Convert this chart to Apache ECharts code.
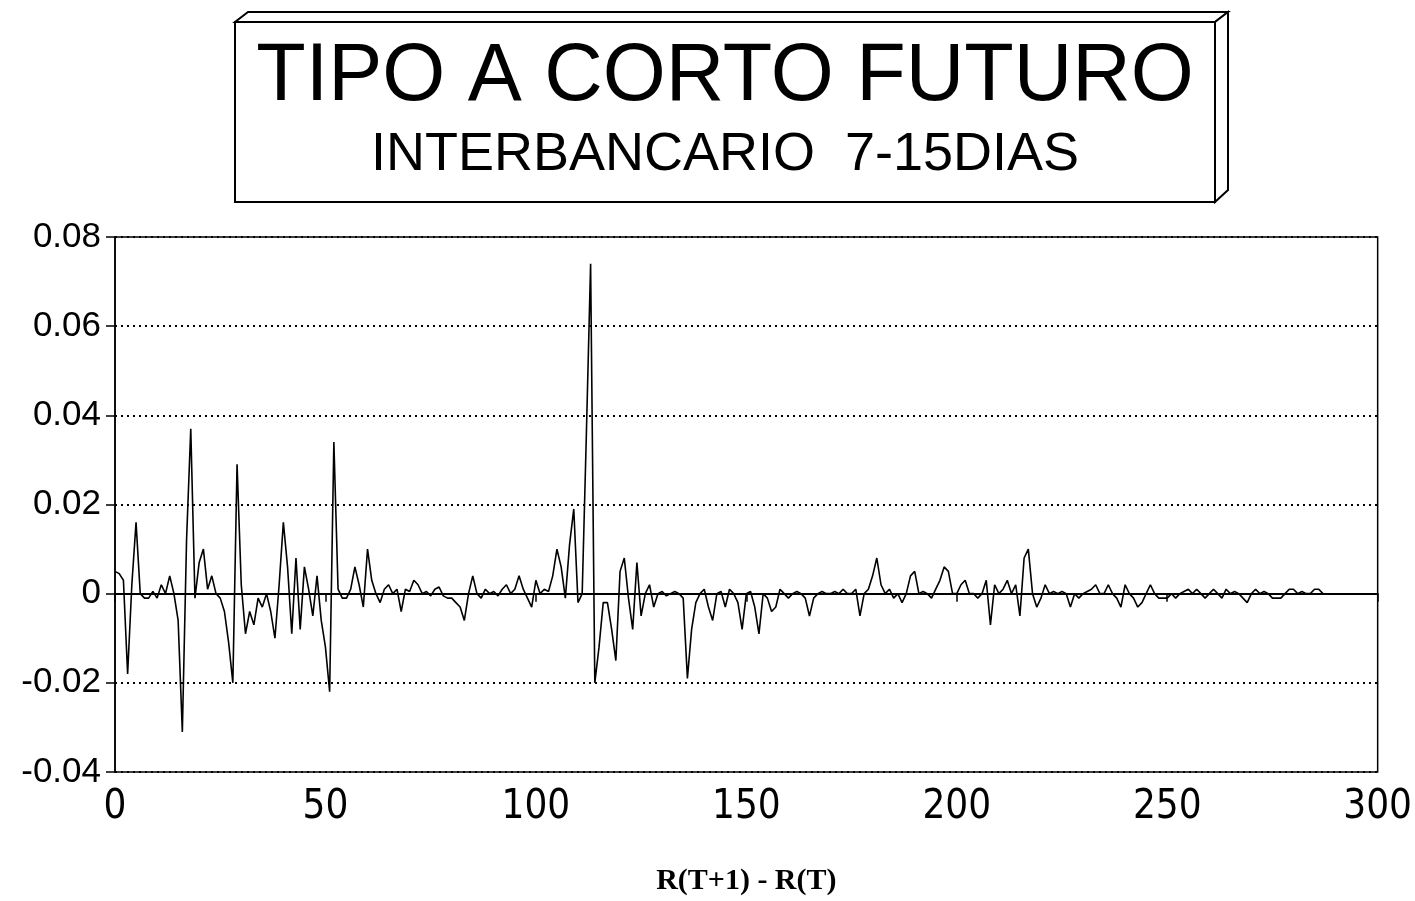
<!DOCTYPE html>
<html>
<head>
<meta charset="utf-8">
<script src="https://cdn.jsdelivr.net/npm/echarts@6/dist/echarts.min.js"></script>
<style>
  html, body { margin: 0; padding: 0; background: #ffffff; }
  #chart { width: 1415px; height: 901px; }
</style>
</head>
<body>
<div id="chart"></div>
<script>
// ---- Data ----
const titleMain = 'TIPO A CORTO FUTURO';
const titleSub = 'INTERBANCARIO  7-15DIAS';
const xAxisName = 'R(T+1) - R(T)';
const xTicks = [0, 50, 100, 150, 200, 250, 300];
const yTicks = [-0.04, -0.02, 0, 0.02, 0.04, 0.06, 0.08];

// daily change r(t+1) - r(t), observation index 0..286
const diffValues = [
  0.005, 0.0045, 0.003, -0.018, 0.002, 0.016, 0.000, -0.001, -0.001, 0.0005,
  -0.001, 0.002, 0.000, 0.004, 0.000, -0.006, -0.031, 0.012, 0.037, -0.001,
  0.007, 0.010, 0.001, 0.004, 0.000, -0.001, -0.004, -0.011, -0.020, 0.029,
  0.002, -0.009, -0.004, -0.007, -0.001, -0.003, 0.000, -0.004, -0.010, 0.002,
  0.016, 0.006, -0.009, 0.008, -0.008, 0.006, 0.001, -0.005, 0.004, -0.006,
  -0.012, -0.022, 0.034, 0.001, -0.001, -0.001, 0.001, 0.006, 0.002, -0.003,
  0.010, 0.003, 0.000, -0.002, 0.001, 0.002, 0.000, 0.001, -0.004, 0.001,
  0.0005, 0.003, 0.002, 0.000, 0.0005, -0.0005, 0.001, 0.0015, -0.0005, -0.001,
  -0.001, -0.002, -0.003, -0.006, 0.000, 0.004, 0.000, -0.001, 0.001, 0.000,
  0.0005, -0.0005, 0.001, 0.002, 0.000, 0.001, 0.004, 0.001, -0.001, -0.003,
  0.003, 0.000, 0.001, 0.0005, 0.004, 0.010, 0.006, -0.001, 0.011, 0.019,
  -0.002, 0.000, 0.036, 0.074, -0.020, -0.012, -0.002, -0.002, -0.008, -0.015,
  0.005, 0.008, -0.001, -0.008, 0.007, -0.005, 0.000, 0.002, -0.003, 0.000,
  0.0005, -0.0005, 0.000, 0.0005, 0.000, -0.001, -0.019, -0.008, -0.002, 0.000,
  0.001, -0.003, -0.006, 0.000, 0.0005, -0.003, 0.001, 0.000, -0.002, -0.008,
  0.000, 0.0005, -0.003, -0.009, 0.000, -0.001, -0.004, -0.003, 0.001, 0.000,
  -0.001, 0.000, 0.0005, 0.000, -0.001, -0.005, -0.001, 0.000, 0.0005, 0.000,
  0.000, 0.0005, 0.000, 0.001, 0.000, 0.000, 0.001, -0.005, 0.000, 0.001,
  0.004, 0.008, 0.002, 0.000, 0.001, -0.001, 0.000, -0.002, 0.000, 0.004,
  0.005, 0.000, 0.0005, 0.000, -0.001, 0.001, 0.003, 0.006, 0.005, 0.000,
  0.000, 0.002, 0.003, 0.000, 0.000, -0.001, 0.000, 0.003, -0.007, 0.002,
  0.000, 0.001, 0.003, 0.000, 0.002, -0.005, 0.008, 0.010, 0.000, -0.003,
  -0.001, 0.002, 0.000, 0.0005, 0.000, 0.0005, 0.000, -0.003, 0.000, -0.001,
  0.000, 0.0005, 0.001, 0.002, 0.000, 0.000, 0.002, 0.000, -0.001, -0.003,
  0.002, 0.000, -0.001, -0.003, -0.002, 0.000, 0.002, 0.000, -0.001, -0.001,
  -0.001, 0.000, -0.001, 0.000, 0.0005, 0.001, 0.000, 0.001, 0.000, -0.001,
  0.000, 0.001, 0.000, -0.001, 0.001, 0.000, 0.0005, 0.000, -0.001, -0.002,
  0.000, 0.001, 0.000, 0.0005, 0.000, -0.001, -0.001, -0.001, 0.000, 0.001,
  0.001, 0.000, 0.0005, 0.000, 0.000, 0.001, 0.001, 0.000
];

// ---- Chart ----
const chart = echarts.init(document.getElementById('chart'), null, { renderer: 'canvas' });
const seriesData = diffValues.map((v, i) => [i, v]);

const option = {
  backgroundColor: '#ffffff',
  animation: false,
  grid: {
    left: 115, right: 35, top: 237, bottom: 126,
    show: true, borderColor: '#000', borderWidth: 1.5, backgroundColor: 'transparent'
  },
  xAxis: {
    type: 'value',
    min: xTicks[0], max: xTicks[xTicks.length - 1], interval: 50,
    name: xAxisName,
    nameLocation: 'middle',
    nameGap: 94,
    nameTextStyle: { fontFamily: 'Liberation Serif, Times New Roman, serif', fontWeight: 'bold', fontSize: 30, color: '#000' },
    axisLine: { show: true, lineStyle: { color: '#000', width: 2 } },
    axisTick: { show: true, inside: false, length: 8, lineStyle: { color: '#000', width: 1.5 } },
    axisLabel: { margin: 16, color: '#000', fontSize: 40, fontFamily: 'Liberation Sans Narrow, DejaVu Sans Condensed, Liberation Sans, Arial, sans-serif' },
    splitLine: { show: false }
  },
  yAxis: {
    type: 'value',
    min: yTicks[0], max: yTicks[yTicks.length - 1], interval: 0.02,
    axisLine: { show: true, lineStyle: { color: '#000', width: 1.5 } },
    axisTick: { show: true, inside: false, length: 9, lineStyle: { color: '#000', width: 1.5 } },
    axisLabel: {
      margin: 14, color: '#000', fontSize: 35,
      fontFamily: 'Liberation Sans, Arial, Helvetica, sans-serif',
      formatter: function (v) {
        const r = Math.round(v * 100) / 100;
        return r === 0 ? '0' : r.toFixed(2);
      }
    },
    splitLine: { show: true, lineStyle: { color: '#000', width: 2, type: [2, 4] } }
  },
  series: [{
    type: 'line',
    data: seriesData,
    showSymbol: false,
    symbol: 'none',
    lineStyle: { color: '#000', width: 1.6 },
    z: 3
  }],
  graphic: [
    // 3D title box: top face, right face, front face
    { type: 'polygon', z: 10, shape: { points: [[235, 22], [248, 12], [1228, 12], [1215, 22]] },
      style: { fill: '#fff', stroke: '#000', lineWidth: 2 } },
    { type: 'polygon', z: 10, shape: { points: [[1215, 22], [1228, 12], [1228, 190], [1215, 202]] },
      style: { fill: '#fff', stroke: '#000', lineWidth: 2 } },
    { type: 'rect', z: 10, shape: { x: 235, y: 22, width: 980, height: 180 },
      style: { fill: '#fff', stroke: '#000', lineWidth: 2 } },
    { type: 'text', z: 11, x: 725, y: 78,
      style: { text: titleMain, fill: '#000', align: 'center', verticalAlign: 'middle',
               font: '81px "Liberation Sans", Arial, Helvetica, sans-serif' } },
    { type: 'text', z: 11, x: 725, y: 155,
      style: { text: titleSub, fill: '#000', align: 'center', verticalAlign: 'middle',
               font: '54px "Liberation Sans", Arial, Helvetica, sans-serif' } }
  ]
};
chart.setOption(option);
</script>
</body>
</html>
